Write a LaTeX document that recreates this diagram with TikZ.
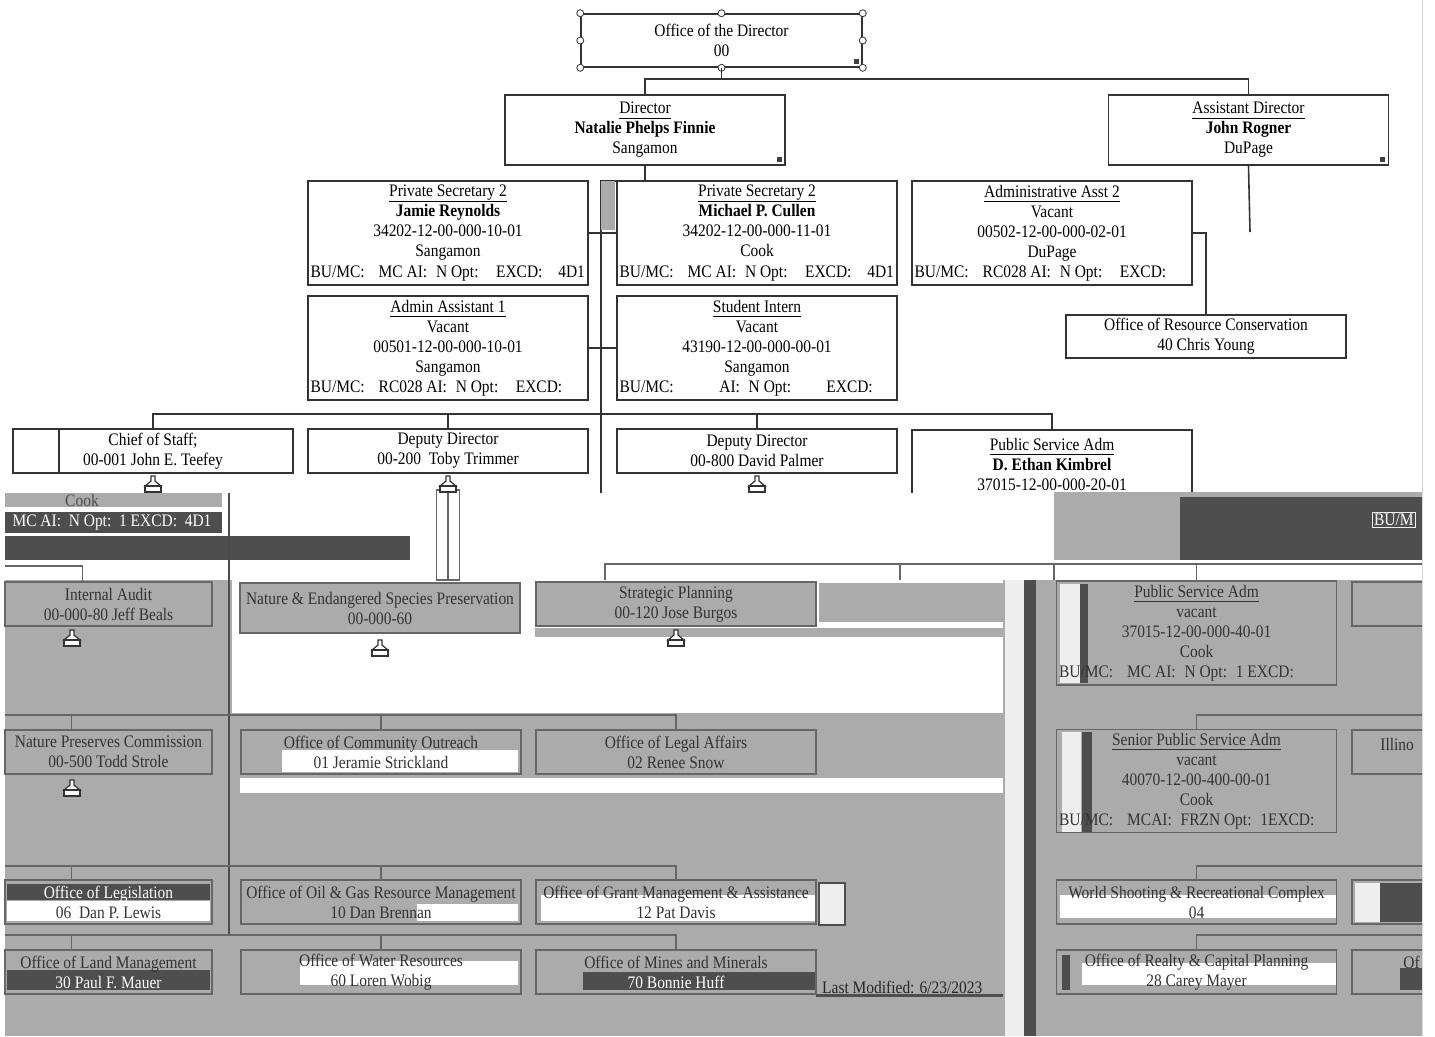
\documentclass[tikz,border=0pt]{standalone}
\usepackage{fontspec}
\setmainfont{Liberation Serif}[FakeStretch=0.88]
\usetikzlibrary{calc}
\definecolor{chartgrey}{HTML}{ABABAB}
\definecolor{chartdark}{HTML}{4E4E4E}
\definecolor{chartlight}{HTML}{EEEEEE}
\newcommand\buline[1]{\makebox[5.5cm][l]{#1}}
\newcommand\titleline[1]{\setbox0\hbox{#1}\rlap{\rule[-2.6pt]{\wd0}{0.5pt}}\box0}
\tikzset{
  orgbox/.style={draw=black!80, line width=0.9pt, fill=white, align=center, inner sep=0pt,
    font=\fontsize{10}{11.4}\selectfont, minimum width=5.6cm},
  tallbox/.style={orgbox, minimum height=2.08cm},
  headbox/.style={orgbox, minimum height=1.4cm},
  unitbox/.style={orgbox, minimum height=0.88cm},
  greybox/.style={unitbox, draw=black!60, line width=0.8pt, fill=chartgrey, text=black!80},
  barebox/.style={greybox, fill=none},
  leftbox/.style={minimum width=4.14cm},
  conn/.style={draw=black!80, line width=0.9pt},
  greyconn/.style={draw=black!60, line width=0.8pt},
  handle/.style={draw=black!75, fill=white, line width=0.5pt},
  icon/.style={draw=black!80, fill=white, line width=0.7pt},
}
\begin{document}
\begin{tikzpicture}[x=0.02cm, y=-0.02cm]
\useasboundingbox (0,0) rectangle (1435,1036);
\clip (0,0) rectangle (1435,1036);

% top of the chart
\node[orgbox, minimum width=5.62cm, minimum height=1.06cm] (office) at (721.5,40.5) {Office of the Director\\00};
\node[headbox] (director) at (645,130) {\titleline{Director}\\\textbf{Natalie Phelps Finnie}\\Sangamon};
\node[headbox] (asstdir) at (1248.5,130) {\titleline{Assistant Director}\\\textbf{John Rogner}\\DuPage};

\node[tallbox] (pvtsecA) at (448,233) {\titleline{Private Secretary 2}\\\textbf{Jamie Reynolds}\\34202-12-00-000-10-01\\Sangamon\\
  \buline{BU/MC:\hspace{8pt}MC AI:\hspace{5pt}N Opt:\hspace{10pt}EXCD:\hspace{9pt}4D1}};
\node[tallbox] (pvtsecB) at (757,233) {\titleline{Private Secretary 2}\\\textbf{Michael P. Cullen}\\34202-12-00-000-11-01\\Cook\\
  \buline{BU/MC:\hspace{8pt}MC AI:\hspace{5pt}N Opt:\hspace{10pt}EXCD:\hspace{9pt}4D1}};
\node[tallbox] (adminasst2) at (1052,233) {\titleline{Administrative Asst 2}\\Vacant\\00502-12-00-000-02-01\\DuPage\\
  \buline{BU/MC:\hspace{8pt}RC028 AI:\hspace{5pt}N Opt:\hspace{10pt}EXCD:}};
\node[tallbox] (adminasst1) at (448,348) {\titleline{Admin Assistant 1}\\Vacant\\00501-12-00-000-10-01\\Sangamon\\
  \buline{BU/MC:\hspace{8pt}RC028 AI:\hspace{5pt}N Opt:\hspace{10pt}EXCD:}};
\node[tallbox] (intern) at (757,348) {\titleline{Student Intern}\\Vacant\\43190-12-00-000-00-01\\Sangamon\\
  \buline{BU/MC:\hspace{26pt}AI:\hspace{5pt}N Opt:\hspace{20pt}EXCD:}};
\node[unitbox, minimum height=0.86cm] (resconsv) at (1206,336.5) {Office of Resource Conservation\\40 Chris Young};

\node[unitbox] (chief) at (153,451) {Chief of Staff;\\00-001 John E. Teefey};
\node[unitbox] (deputyA) at (448,451) {Deputy Director\\00-200\ \ Toby Trimmer};
\node[unitbox] (deputyB) at (757,451) {Deputy Director\\00-800 David Palmer};
\node[headbox, anchor=north] (psadm) at (1052,429) {\titleline{Public Service Adm}\\\textbf{D. Ethan Kimbrel}\\37015-12-00-000-20-01};
\draw[conn] ($(chief.north west)+(47,0)$) -- ($(chief.south west)+(47,0)$);

\foreach \a in {north west,north,north east,west,east,south west,south,south east}
  \draw[handle] (office.\a) circle (0.07cm);
\foreach \b in {office,director,asstdir}
  \fill[black!75] ($(\b.south east)+(-9,-9)$) rectangle ++(5,5);

\coordinate (busA) at (722,79);
\coordinate (trunkTop) at (601,181);
\coordinate (trunkEnd) at (601,493);
\coordinate (busB) at (601,414);
\coordinate (asstEnd) at (1250,232);
\draw[conn] (office.south) -- (office.south |- busA);
\draw[conn] (director.north) |- (busA) -| (asstdir.north);
\draw[conn] (director.south) |- (trunkTop) -- (trunkEnd);
\draw[conn] (asstdir.south) -- (asstEnd);
\draw[conn] (pvtsecA.east) -- (pvtsecB.west);
\draw[conn] (adminasst1.east) -- (intern.west);
\draw[conn] (adminasst2.east) -| (resconsv.north);
\draw[conn] (chief.north) |- (busB) -| (psadm.north);
\draw[conn] (deputyA.north) -- (deputyA.north |- busB);
\draw[conn] (deputyB.north) -- (deputyB.north |- busB);
\fill[chartgrey] (601,181) rectangle (615,230);

% lower part of the page
\fill[white] (0,493) rectangle (1422,580);
\fill[chartgrey] (5,493) rectangle (222,507);
\fill[chartdark] (5,512) rectangle (222,533);
\fill[chartdark] (5,536) rectangle (410,560);
\fill[chartgrey] (1054,492) rectangle (1422,497);
\fill[chartgrey] (1054,497) rectangle (1180,560);
\fill[chartdark] (1180,497) rectangle (1422,560);
\fill[chartgrey] (5,580) rectangle (1422,1036);
\fill[white] (232,580) rectangle (1003,713);
\fill[white] (240,778) rectangle (1003,793);
\fill[chartgrey] (819,583) rectangle (1003,622);
\fill[chartgrey] (535,628) rectangle (1003,637);
\fill[chartlight] (1005,580) rectangle (1024,1036);
\fill[chartdark] (1024,580) rectangle (1036,1036);

\fill[white] (282,750) rectangle (518,772);
\fill[chartdark] (7,884) rectangle (210,900);
\fill[white] (7,901) rectangle (210,921);
\fill[white] (417,904) rectangle (518,921);
\fill[white] (541,895) rectangle (815,921);
\fill[chartdark] (7,970) rectangle (210,990);
\fill[white] (300,961) rectangle (518,985);
\fill[chartdark] (583,972) rectangle (815,990);
\fill[white] (1060,895) rectangle (1336,918);
\fill[white] (1082,963) rectangle (1336,985);
\fill[chartdark] (1062,955) rectangle (1070,990);
\fill[chartlight] (1060,584) rectangle (1080,683);
\fill[chartdark] (1080,584) rectangle (1088,683);
\fill[chartlight] (1062,732) rectangle (1081,832);
\fill[chartdark] (1082,732) rectangle (1092,832);
\fill[chartlight] (1355,883) rectangle (1380,922);
\fill[chartdark] (1380,883) rectangle (1422,922);
\fill[chartdark] (1400,968) rectangle (1422,990);
\fill[chartdark] (816,994) rectangle (1003,997);
\draw[fill=chartlight, draw=chartdark, line width=1.5pt] (819,883) rectangle (845,925);

\node[font=\fontsize{10}{11.4}\selectfont, text=black!70] (cookstrip) at (82,500) {Cook};
\node[font=\fontsize{10}{11.4}\selectfont, text=white] (codestrip) at (112,523) {MC AI:\ \ N Opt:\ \ 1 EXCD:\ \ 4D1};
\node[draw=chartlight, fill=chartdark, text=white, inner sep=1pt, anchor=west,
  font=\fontsize{10}{11.4}\selectfont] (bumcstrip) at (1372,520) {BU/M};

\node[greybox, leftbox] (audit) at (108.5,604) {Internal Audit\\00-000-80 Jeff Beals};
\node[greybox, minimum height=1cm] (nesp) at (380,608) {Nature \& Endangered Species Preservation\\00-000-60};
\node[greybox] (strategic) at (676,604) {Strategic Planning\\00-120 Jose Burgos};
\node[barebox, leftbox] (npc) at (108.5,752) {Nature Preserves Commission\\00-500 Todd Strole};
\node[barebox] (outreach) at (381,752) {Office of Community Outreach\\01 Jeramie Strickland};
\node[barebox] (legal) at (676,752) {Office of Legal Affairs\\02 Renee Snow};
\node[barebox, leftbox] (legis) at (108.5,902) {{\color{white}Office of Legislation}\\06\ \ Dan P. Lewis};
\node[barebox] (oilgas) at (381,902) {Office of Oil \& Gas Resource Management\\10 Dan Brennan};
\node[barebox] (grants) at (676,902) {Office of Grant Management \& Assistance\\12 Pat Davis};
\node[barebox, leftbox] (landmgmt) at (108.5,972) {Office of Land Management\\{\color{white}30 Paul F. Mauer}};
\node[barebox] (water) at (381,972) {Office of Water Resources\\60 Loren Wobig};
\node[barebox] (mines) at (676,972) {Office of Mines and Minerals\\{\color{white}70 Bonnie Huff}};
\node[anchor=west, font=\fontsize{10}{11.4}\selectfont, text=black!85] (modified) at (816,987) {Last Modified: 6/23/2023};

\node[barebox, minimum height=2.08cm] (psadmB) at (1196.5,633) {\titleline{Public Service Adm}\\vacant\\37015-12-00-000-40-01\\Cook\\
  \buline{BU/MC:\hspace{8pt}MC AI:\hspace{5pt}N Opt:\hspace{5pt}1 EXCD:}};
\node[barebox, minimum height=2.06cm] (seniorpsa) at (1196.5,781) {\titleline{Senior Public Service Adm}\\vacant\\40070-12-00-400-00-01\\Cook\\
  \buline{BU/MC:\hspace{8pt}MCAI:\hspace{5pt}FRZN Opt:\hspace{5pt}1EXCD:}};
\node[barebox] (shooting) at (1196.5,902) {World Shooting \& Recreational Complex\\04};
\node[barebox] (realty) at (1196.5,972) {Office of Realty \& Capital Planning\\28 Carey Mayer};
\node[barebox] (edgeA) at (1492,604) {};
\node[barebox] (edgeB) at (1492,752) {};
\node[barebox] (edgeC) at (1492,902) {};
\node[barebox] (edgeD) at (1492,972) {};
\node[anchor=west, font=\fontsize{10}{11.4}\selectfont, text=black!80, inner sep=0pt] (illinoislabel) at (1380,744) {Illino};
\node[anchor=west, font=\fontsize{10}{11.4}\selectfont, text=black!80, inner sep=0pt] (officelabel) at (1403,962) {Of};

% connectors in the lower part
\coordinate (trunkC) at (229,493);
\coordinate (trunkD) at (229,935);
\coordinate (busIA) at (5,566);
\coordinate (busTopE) at (1422,564);
\coordinate (dropA) at (605,580);
\coordinate (dropB) at (900,580);
\coordinate (dropC) at (1054,580);
\coordinate (rowAw) at (5,715);
\coordinate (rowBw) at (5,866);
\coordinate (rowCw) at (5,935);
\coordinate (rowAe) at (1422,715);
\coordinate (rowBe) at (1422,866);
\coordinate (rowCe) at (1422,935);
\coordinate (npcTop) at ($(npc.north west)+(67,0)$);
\coordinate (legisTop) at ($(legis.north west)+(67,0)$);
\coordinate (landTop) at ($(landmgmt.north west)+(67,0)$);
\coordinate (auditTop) at ($(audit.north west)+(78,0)$);
\draw[greyconn, draw=black!70] (trunkC) -- (trunkD);
\draw[greyconn] (busIA) -| (auditTop);
\draw[greyconn] (dropA) |- (busTopE);
\draw[greyconn] (dropB) -- (dropB |- busTopE);
\draw[greyconn] (dropC) -- (dropC |- busTopE);
\draw[greyconn] (psadmB.north) -- (psadmB.north |- busTopE);
\draw[greyconn] (rowAw) -| (legal.north);
\draw[greyconn] (npcTop) -- (npcTop |- rowAw);
\draw[greyconn] (outreach.north) -- (outreach.north |- rowAw);
\draw[greyconn] (rowBw) -| (grants.north);
\draw[greyconn] (legisTop) -- (legisTop |- rowBw);
\draw[greyconn] (oilgas.north) -- (oilgas.north |- rowBw);
\draw[greyconn] (rowCw) -| (mines.north);
\draw[greyconn] (landTop) -- (landTop |- rowCw);
\draw[greyconn] (water.north) -- (water.north |- rowCw);
\draw[greyconn] (seniorpsa.north) |- (rowAe);
\draw[greyconn] (shooting.north) |- (rowBe);
\draw[greyconn] (realty.north) |- (rowCe);

\node[draw=black!60, fill=white, line width=0.8pt, minimum width=0.46cm, minimum height=1.8cm, inner sep=0pt] (tobylink) at (448,535) {};
\draw[greyconn] (tobylink.north) -- (tobylink.south);

% expand markers
\foreach \ix/\iy in {153/476,448/476,757/476,72/630,380/640,676/630,72/780}{
  \draw[icon] (\ix-2,\iy) -- (\ix-2,\iy+5) -- (\ix-8,\iy+10) -- (\ix+8,\iy+10) -- (\ix+2,\iy+5) -- (\ix+2,\iy) -- cycle;
  \draw[icon] (\ix-8,\iy+10) rectangle (\ix+8,\iy+16);
}

% right margin
\fill[white] (1422,0) rectangle (1435,1036);
\draw[black!15] (1422,0) -- (1422,1036);
\end{tikzpicture}
\end{document}
